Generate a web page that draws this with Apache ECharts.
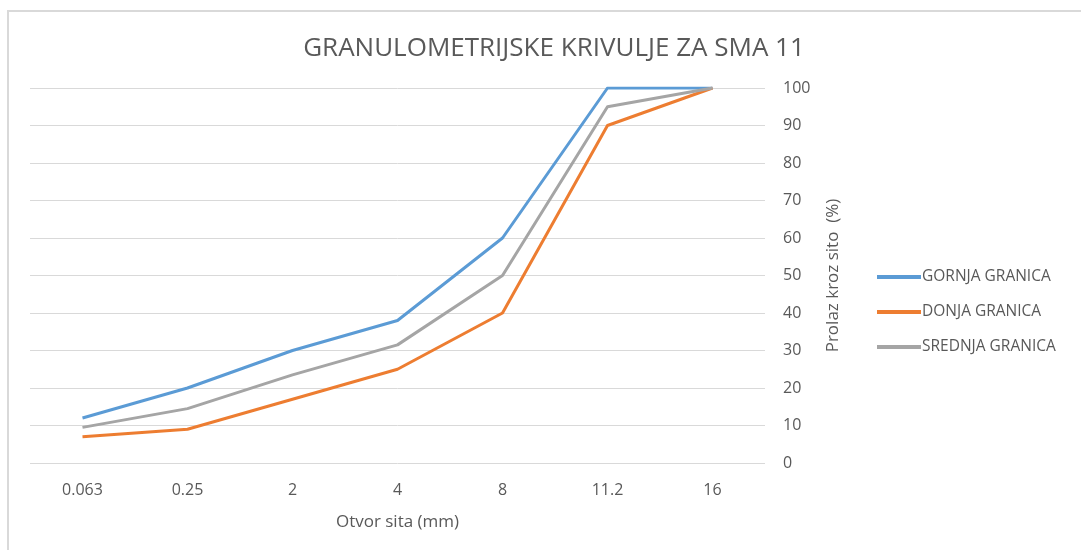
<!DOCTYPE html>
<html>
<head>
<meta charset="utf-8">
<script src="https://cdn.jsdelivr.net/npm/echarts@6/dist/echarts.min.js"></script>
<style>
  html, body { margin: 0; padding: 0; background: #fff; }
  #frame { position: absolute; left: 7px; top: 10px; width: 1074px; height: 540px;
           border-left: 2px solid #d9d9d9; border-top: 2px solid #d9d9d9; }
  #chart { position: absolute; left: 0; top: 0; width: 1081px; height: 550px; }
</style>
</head>
<body>
<div id="frame"></div>
<div id="chart"></div>
<script>
const categories = ['0.063', '0.25', '2', '4', '8', '11.2', '16']
const gornja = [12, 20, 30, 38, 60, 100, 100]
const donja = [7, 9, 17, 25, 40, 90, 100]
const srednja = [9.5, 14.5, 23.5, 31.5, 50, 95, 100]
const yTicks = [0, 10, 20, 30, 40, 50, 60, 70, 80, 90, 100]

const font = "'Open Sans', sans-serif"
const textColor = '#595959'

const chart = echarts.init(document.getElementById('chart'))

function line(name, data, color) {
  return {
    name: name,
    type: 'line',
    data: data,
    symbol: 'none',
    animation: false,
    lineStyle: { color: color, width: 3, join: 'round' },
    itemStyle: { color: color }
  }
}

chart.setOption({
  title: {
    text: 'GRANULOMETRIJSKE KRIVULJE ZA SMA 11',
    left: 549,
    textAlign: 'center',
    top: 31,
    textStyle: { fontFamily: font, fontSize: 26, fontWeight: 'normal', color: textColor }
  },
  legend: {
    orient: 'vertical',
    left: 872,
    top: 264,
    itemWidth: 44,
    itemHeight: 4,
    itemGap: 19,
    icon: 'rect',
    textStyle: { fontFamily: font, fontSize: 15.5, color: textColor, padding: [0, 0, 0, -4] },
    data: ['GORNJA GRANICA', 'DONJA GRANICA', 'SREDNJA GRANICA']
  },
  grid: { left: 30, right: 316, top: 88, bottom: 87 },
  xAxis: {
    type: 'category',
    data: categories,
    boundaryGap: true,
    name: 'Otvor sita (mm)',
    nameLocation: 'middle',
    nameGap: 51,
    nameTextStyle: { fontFamily: font, fontSize: 17, color: textColor },
    axisLine: { show: false },
    axisTick: { show: false },
    axisLabel: { fontFamily: font, fontSize: 16, color: textColor, margin: 19 }
  },
  yAxis: {
    type: 'value',
    position: 'right',
    min: 0,
    max: 100,
    interval: 10,
    name: 'Prolaz kroz sito  (%)',
    nameLocation: 'middle',
    nameRotate: 90,
    nameGap: 60,
    nameTextStyle: { fontFamily: font, fontSize: 17, color: textColor },
    axisLine: { show: false },
    axisTick: { show: false },
    axisLabel: {
      fontFamily: font, fontSize: 16, color: textColor, margin: 18,
      formatter: function (v) { return yTicks.indexOf(v) >= 0 ? String(v) : '' }
    },
    splitLine: { lineStyle: { color: '#d9d9d9', width: 1 } }
  },
  series: [
    line('GORNJA GRANICA', gornja, '#5b9bd5'),
    line('DONJA GRANICA', donja, '#ed7d31'),
    line('SREDNJA GRANICA', srednja, '#a5a5a5')
  ]
})
</script>
</body>
</html>
